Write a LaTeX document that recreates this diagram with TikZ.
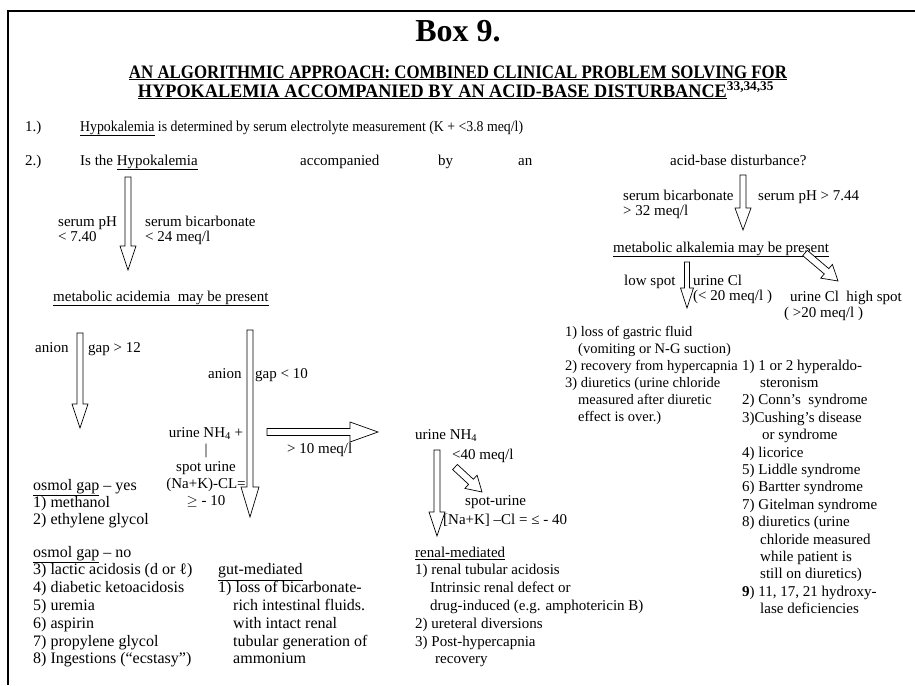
\documentclass[tikz,border=0pt]{standalone}
\usepackage{fontspec}
\setmainfont{Liberation Serif}
\usepackage{tikz}
\usetikzlibrary{calc}
\tikzset{shaft/.store in=\shaftw, headw/.store in=\headw, headl/.store in=\headl,
  shaft=3pt, headw=8pt, headl=24pt}
\tikzstyle{txt} = [inner sep=0pt, anchor=base west, font=\fontsize{15}{17}\selectfont]
\tikzstyle{lst} = [inner sep=0pt, anchor=north west, align=left, font=\fontsize{15}{17}\selectfont]
\tikzstyle{head} = [inner sep=0pt, anchor=base, font=\fontsize{32}{36}\selectfont\bfseries]
\tikzstyle{ttl} = [inner sep=0pt, anchor=base, font=\fontsize{19}{21}\selectfont\bfseries]
\tikzstyle{hollow} = [line width=0.7pt, fill=white, to path={
    let \p1=(\tikztostart), \p2=(\tikztotarget),
        \n1={atan2(\y2-\y1,\x2-\x1)}, \n2={veclen(\x2-\x1,\y2-\y1)} in
    {[shift={(\x1,\y1)}, rotate=\n1]
     (0pt,-\shaftw) -- (\n2-\headl,-\shaftw) -- (\n2-\headl,-\headw) -- (\n2,0pt)
     -- (\n2-\headl,\headw) -- (\n2-\headl,\shaftw) -- (0pt,\shaftw) -- cycle}}]

\begin{document}
\begin{tikzpicture}[x=1pt, y=-1pt]
        \useasboundingbox (0,0) rectangle (915,685);
        \draw [line width=1.8pt] (8,685) -- (8,11) -- (915,11);

        % heading
        \node (boxno) [head] at (458,42) {Box 9.};
        \node (title1) [ttl] at (458,78) {\underline{\scalebox{0.887}[1]{AN ALGORITHMIC APPROACH: COMBINED CLINICAL PROBLEM SOLVING FOR}}};
        \node (title2) [ttl] at (456,97) {\underline{\scalebox{0.96}[1]{HYPOKALEMIA ACCOMPANIED BY AN ACID-BASE DISTURBANCE}}\textsuperscript{33,34,35}};

        % questions
        \node (n1) [txt] at (25,131) {1.)};
        \node (q1) [txt] at (80,131) {\scalebox{0.92}[1]{\underline{Hypokalemia} is determined by serum electrolyte measurement (K + <3.8 meq/l)}};
        \node (n2) [txt] at (25,165) {2.)};
        \node (q2a) [txt] at (80,165) {Is the \underline{Hypokalemia}};
        \node (q2b) [txt] at (300,165) {accompanied};
        \node (q2c) [txt] at (438,165) {by};
        \node (q2d) [txt] at (518,165) {an};
        \node (q2e) [txt] at (670,165) {acid-base disturbance?};

        % acidemia branch
        \node (phlow) [lst, font=\fontsize{15}{15}\selectfont] at (58,215.5) {\strut serum pH\\< 7.40};
        \node (bicarblow) [lst, font=\fontsize{15}{15}\selectfont] at (145,215.5) {\strut serum bicarbonate\\< 24 meq/l};
        \node (acidemia) [txt] at (53,301) {\underline{metabolic acidemia\ \ may be present}};
        \coordinate (a1s) at (128,177); \coordinate (a1e) at (128,270);
        \draw [hollow] (a1s) to (a1e);

        \node (anion1) [txt] at (35,352) {anion};
        \node (gap1) [txt] at (88,352) {gap > 12};
        \coordinate (a2s) at (80,333); \coordinate (a2e) at (80,428);
        \draw [hollow] (a2s) to (a2e);

        \node (anion2) [txt] at (208,378) {anion};
        \node (gap2) [txt] at (255,378) {gap < 10};
        \coordinate (a3s) at (250,330); \coordinate (a3e) at (250,517);
        \draw [hollow, headw=9pt, headl=30pt] (a3s) to (a3e);

        \node (nh4a) [lst, align=center, anchor=north] at (206,425) {\strut urine NH\textsubscript{4} +\\|\\spot urine\\(Na+K)-CL=\\$\geq$ - 10};
        \coordinate (a4s) at (267,432); \coordinate (a4e) at (378,432);
        \draw [hollow, shaft=3.5pt, headw=10pt, headl=28pt] (a4s) to (a4e);
        \node (gt10) [txt] at (287,453) {> 10 meq/l};

        \node (nh4b) [txt] at (415,439) {urine NH\textsubscript{4}};
        \node (lt40) [txt] at (452,459) {<40 meq/l};
        \coordinate (a5s) at (455,467); \coordinate (a5e) at (482,492);
        \draw [hollow, shaft=3.5pt, headw=9pt, headl=15pt] (a5s) to (a5e);
        \node (spot2) [txt] at (465,505) {spot-urine};
        \node (nakcl) [txt] at (443,524) {[Na+K] –Cl = ≤ - 40};
        \coordinate (a6s) at (437,450); \coordinate (a6e) at (437,536);
        \draw [hollow] (a6s) to (a6e);

        \node (osmyes) [lst, font=\fontsize{16}{17}\selectfont] at (33,478) {\strut\underline{osmol gap} – yes\\1) methanol\\2) ethylene glycol};
        \node (osmno) [lst, font=\fontsize{16}{17.8}\selectfont] at (33,544.5) {\strut\underline{osmol gap} – no\\3) lactic acidosis (d or ℓ)\\4) diabetic ketoacidosis\\5) uremia\\6) aspirin\\7) propylene glycol\\8) Ingestions (“ecstasy”)};
        \node (gut) [lst, font=\fontsize{16}{17.8}\selectfont] at (218,562.3) {\strut\underline{gut-mediated}\\1) loss of bicarbonate-\\\hspace*{15pt}rich intestinal fluids.\\\hspace*{15pt}with intact renal\\\hspace*{15pt}tubular generation of\\\hspace*{15pt}ammonium};
        \node (renal) [lst, font=\fontsize{15}{17.8}\selectfont] at (415,544.5) {\strut\underline{renal-mediated}\\1) renal tubular acidosis\\\hspace*{15pt}Intrinsic renal defect or\\\hspace*{15pt}drug-induced (e.g. amphotericin B)\\2) ureteral diversions\\3) Post-hypercapnia\\\hspace*{20pt}recovery};

        % alkalemia branch
        \node (bicarbhigh) [lst, font=\fontsize{15}{15}\selectfont] at (623,189.5) {\strut serum bicarbonate\\> 32 meq/l};
        \node (phhigh) [txt] at (758,200) {serum pH > 7.44};
        \coordinate (b1s) at (743,175); \coordinate (b1e) at (743,230);
        \draw [hollow, headl=22pt] (b1s) to (b1e);
        \node (alkalemia) [txt] at (613,252) {\underline{metabolic alkalemia may be present}};

        \node (lowspot) [txt] at (624,285) {low spot};
        \node (urcl) [lst, font=\fontsize{15}{15}\selectfont] at (693,274.5) {\strut urine Cl\\(< 20 meq/l )};
        \coordinate (b2s) at (687,262); \coordinate (b2e) at (687,308);
        \draw [hollow, shaft=2.5pt, headw=6.5pt, headl=20pt] (b2s) to (b2e);
        \coordinate (b3s) at (805,253); \coordinate (b3e) at (838,281);
        \draw [hollow, shaft=3.5pt, headw=9pt, headl=15pt] (b3s) to (b3e);
        \node (highspot) [lst, font=\fontsize{15}{16}\selectfont] at (784,289.8) {\strut\hspace*{6pt}urine Cl\ \ high spot\\( >20 meq/l )};

        \node (lowlist) [lst, font=\fontsize{14.5}{17}\selectfont] at (565,324) {\strut 1) loss of gastric fluid\\\hspace*{13pt}(vomiting or N-G suction)\\2) recovery from hypercapnia\\3) diuretics (urine chloride\\\hspace*{13pt}measured after diuretic\\\hspace*{13pt}effect is over.)};
        \node (highlist) [lst, font=\fontsize{15}{17.4}\selectfont] at (742,357.8) {\strut 1) 1 or 2 hyperaldo-\\\hspace*{18pt}steronism\\2) Conn’s\ \ syndrome\\3)Cushing’s disease\\\hspace*{20pt}or syndrome\\4) licorice\\5) Liddle syndrome\\6) Bartter syndrome\\7) Gitelman syndrome\\8) diuretics (urine\\\hspace*{18pt}chloride measured\\\hspace*{18pt}while patient is\\\hspace*{18pt}still on diuretics)\\\textbf{9}) 11, 17, 21 hydroxy-\\\hspace*{18pt}lase deficiencies};

\end{tikzpicture}
\end{document}
